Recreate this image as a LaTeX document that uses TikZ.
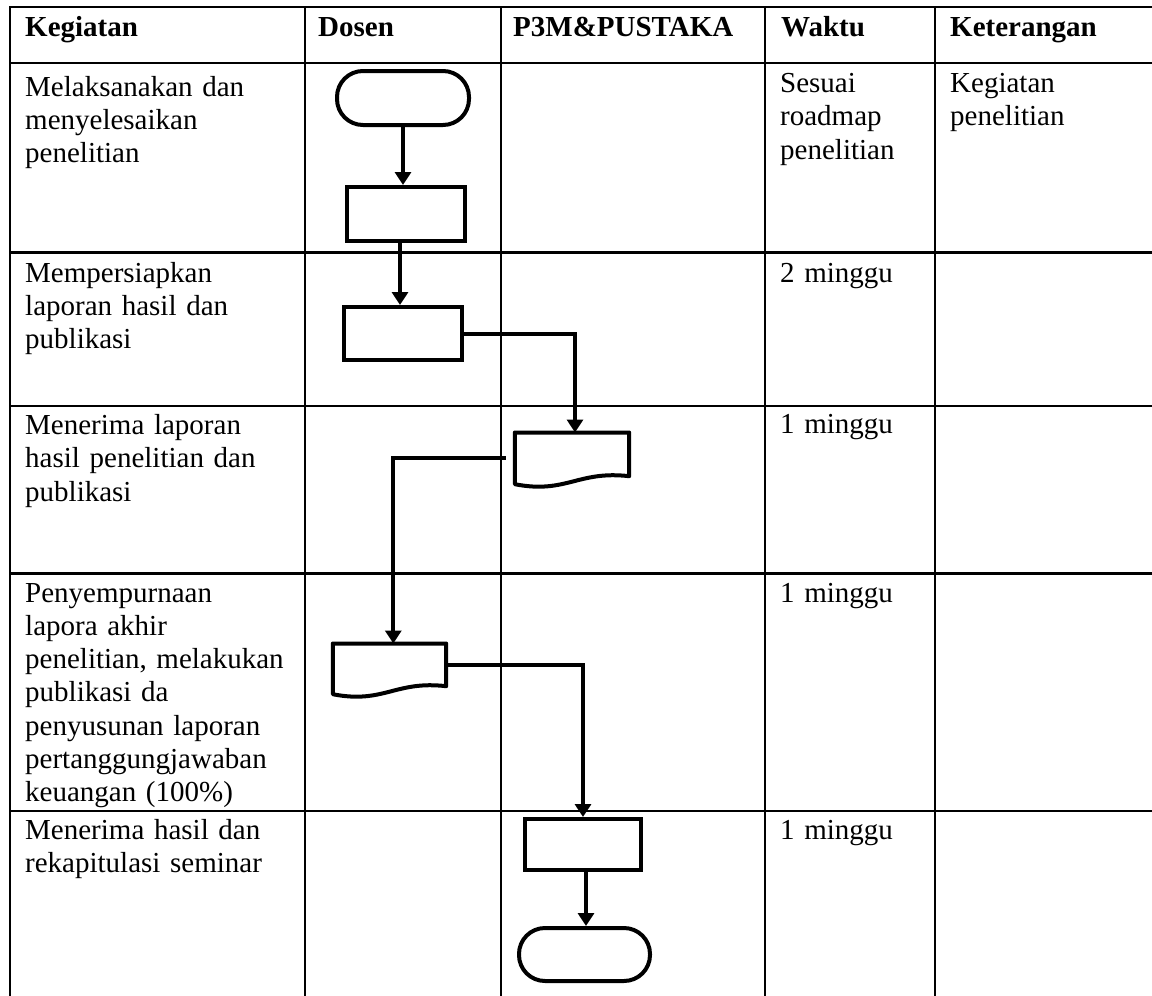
\documentclass[tikz,border=0pt]{standalone}
\usepackage{fontspec}
\setmainfont{Liberation Serif}
\usetikzlibrary{arrows.meta}
\begin{document}
\begin{tikzpicture}[x=1pt,y=-1pt,
  gridline/.style={line width=2.2pt, black},
  txt/.style={font=\fontsize{29}{33.3}\selectfont, text width=320pt, align=left, inner sep=0pt, anchor=base west},
  hdr/.style={txt, font=\fontsize{29}{33.3}\selectfont\bfseries},
  shp/.style={draw, line width=4pt, inner sep=0pt},
  procbox/.style={shp, rectangle},
  termbox/.style={shp, rectangle, rounded corners=26pt},
  docbox/.style={rectangle, inner sep=0pt, draw=none},
  flow/.style={line width=4pt, -{Triangle[length=13pt,width=16pt]}},
]
\useasboundingbox (0,0) rectangle (1152,996);
\fill[white] (0,0) rectangle (1152,996);

% table grid
\foreach \yy in {7.3,63.3,252.5,405.7,573.5,810.7}
  \draw[gridline] (9,\yy) -- (1152,\yy);
\foreach \xx in {10,305,501,765,935}
  \draw[gridline] (\xx,6.2) -- (\xx,996);

% header
\node[hdr] (h1) at (25,36) {Kegiatan};
\node[hdr] (h2) at (318,36) {Dosen};
\node[hdr] (h3) at (513,36) {P3M\&PUSTAKA};
\node[hdr] (h4) at (781,36) {Waktu};
\node[hdr] (h5) at (950,36) {Keterangan};

% column 1
\node[txt] (k1) at (25,96) {Melaksanakan dan\\menyelesaikan\\penelitian};
\node[txt] (k2) at (25,282) {Mempersiapkan\\laporan hasil dan\\publikasi};
\node[txt] (k3) at (25,434.5) {Menerima laporan\\hasil penelitian dan\\publikasi};
\node[txt] (k4) at (25,602) {Penyempurnaan\\lapora akhir\\penelitian, melakukan\\publikasi da\\penyusunan laporan\\pertanggungjawaban\\keuangan (100\%)};
\node[txt] (k5) at (25,839) {Menerima hasil dan\\rekapitulasi seminar};

% waktu
\node[txt] (w1) at (780,92.5) {Sesuai\\roadmap\\penelitian};
\node[txt] (w2) at (780,282.5) {2 minggu};
\node[txt] (w3) at (780,433.5) {1 minggu};
\node[txt] (w4) at (780,602) {1 minggu};
\node[txt] (w5) at (780,839) {1 minggu};

% keterangan
\node[txt] (ke1) at (950,92) {Kegiatan\\penelitian};

% flowchart shapes
\node[termbox, minimum width=132pt, minimum height=54pt] (t1) at (403,98) {};
\node[procbox, minimum width=118pt, minimum height=54pt] (r1) at (406,214) {};
\node[procbox, minimum width=118pt, minimum height=53pt] (r2) at (403,333.5) {};
\node[docbox, minimum width=114pt, minimum height=51.3pt] (d1) at (572,458.35) {};
\node[docbox, minimum width=113pt, minimum height=50.3pt] (d2) at (389.5,668.85) {};
\node[procbox, minimum width=116pt, minimum height=51pt] (r3) at (583,844.5) {};
\node[termbox, minimum width=131pt, minimum height=53pt] (t2) at (584.5,954.5) {};

% document outlines
\draw[line width=4pt, line join=round] (d1.north west) -- (d1.north east) -- ([yshift=8pt]d1.south east)
  .. controls ([xshift=-51.3pt,yshift=14pt]d1.south east) and ([xshift=51.3pt,yshift=-10pt]d1.south west) .. (d1.south west) -- cycle;
\draw[line width=4pt, line join=round] (d2.north west) -- (d2.north east) -- ([yshift=8pt]d2.south east)
  .. controls ([xshift=-50.9pt,yshift=14pt]d2.south east) and ([xshift=50.9pt,yshift=-10pt]d2.south west) .. (d2.south west) -- cycle;

% connectors
\draw[flow] (t1.south) -- (t1.south |- r1.north);
\draw[flow] ([xshift=-6pt]r1.south) -- ([xshift=-6pt]r1.south |- r2.north);
\draw[flow] (r2.east) -| ([xshift=3pt]d1.north);
\draw[flow] ([xshift=-9pt]d1.west) -| ([xshift=3.8pt]d2.north);
\draw[flow] ([yshift=4pt]d2.east) -| (r3.north);
\draw[flow] ([xshift=3pt]r3.south) -- ([xshift=3pt]r3.south |- t2.north);
\end{tikzpicture}
\end{document}
